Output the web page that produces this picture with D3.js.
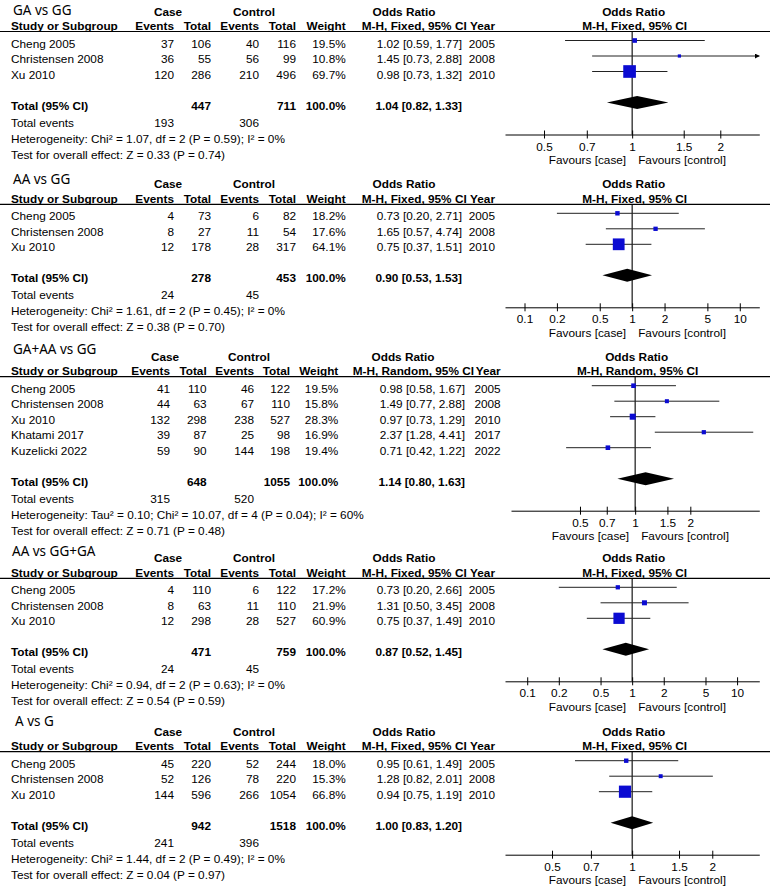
<!DOCTYPE html>
<html>
<head>
<meta charset="utf-8">
<script src="https://cdn.jsdelivr.net/npm/d3@7"></script>
<style>
  body { margin: 0; background: #fff; }
  text { font-family: "Liberation Sans", Arial, sans-serif; font-size: 11.8px; fill: #000; }
  .b { font-weight: bold; }
  .title { font-family: "Noto Sans", "Open Sans", sans-serif; font-size: 13.5px; }
</style>
</head>
<body>
<svg id="chart" width="770" height="893"></svg>
<script>
// ---- data ----
const titles = ["GA vs GG", "AA vs GG", "GA+AA vs GG", "AA vs GG+GA", "A vs G"];
const methods = ["M-H, Fixed, 95% CI", "M-H, Fixed, 95% CI", "M-H, Random, 95% CI", "M-H, Fixed, 95% CI", "M-H, Fixed, 95% CI"];
const studyNames = [
  ["Cheng 2005", "Christensen 2008", "Xu 2010"],
  ["Cheng 2005", "Christensen 2008", "Xu 2010"],
  ["Cheng 2005", "Christensen 2008", "Xu 2010", "Khatami 2017", "Kuzelicki 2022"],
  ["Cheng 2005", "Christensen 2008", "Xu 2010"],
  ["Cheng 2005", "Christensen 2008", "Xu 2010"]
];
const years = [
  [2005, 2008, 2010], [2005, 2008, 2010], [2005, 2008, 2010, 2017, 2022], [2005, 2008, 2010], [2005, 2008, 2010]
];
const caseEvents = [[37, 36, 120], [4, 8, 12], [41, 44, 132, 39, 59], [4, 8, 12], [45, 52, 144]];
const caseTotals = [[106, 55, 286], [73, 27, 178], [110, 63, 298, 87, 90], [110, 63, 298], [220, 126, 596]];
const ctrlEvents = [[40, 56, 210], [6, 11, 28], [46, 67, 238, 25, 144], [6, 11, 28], [52, 78, 266]];
const ctrlTotals = [[116, 99, 496], [82, 54, 317], [122, 110, 527, 98, 198], [122, 110, 527], [244, 220, 1054]];
const weights = [[19.5, 10.8, 69.7], [18.2, 17.6, 64.1], [19.5, 15.8, 28.3, 16.9, 19.4], [17.2, 21.9, 60.9], [18.0, 15.3, 66.8]];
const orEst = [[1.02, 1.45, 0.98], [0.73, 1.65, 0.75], [0.98, 1.49, 0.97, 2.37, 0.71], [0.73, 1.31, 0.75], [0.95, 1.28, 0.94]];
const orLow = [[0.59, 0.73, 0.73], [0.20, 0.57, 0.37], [0.58, 0.77, 0.73, 1.28, 0.42], [0.20, 0.50, 0.37], [0.61, 0.82, 0.75]];
const orHigh = [[1.77, 2.88, 1.32], [2.71, 4.74, 1.51], [1.67, 2.88, 1.29, 4.41, 1.22], [2.66, 3.45, 1.49], [1.49, 2.01, 1.19]];
const totCase = [447, 278, 648, 471, 942];
const totCtrl = [711, 453, 1055, 759, 1518];
const poolOR = [1.04, 0.90, 1.14, 0.87, 1.00];
const poolLow = [0.82, 0.53, 0.80, 0.52, 0.83];
const poolHigh = [1.33, 1.53, 1.63, 1.45, 1.20];
const evCase = [193, 24, 315, 24, 241];
const evCtrl = [306, 45, 520, 45, 396];
const hetText = [
  "Heterogeneity: Chi² = 1.07, df = 2 (P = 0.59); I² = 0%",
  "Heterogeneity: Chi² = 1.61, df = 2 (P = 0.45); I² = 0%",
  "Heterogeneity: Tau² = 0.10; Chi² = 10.07, df = 4 (P = 0.04); I² = 60%",
  "Heterogeneity: Chi² = 0.94, df = 2 (P = 0.63); I² = 0%",
  "Heterogeneity: Chi² = 1.44, df = 2 (P = 0.49); I² = 0%"
];
const testText = [
  "Test for overall effect: Z = 0.33 (P = 0.74)",
  "Test for overall effect: Z = 0.38 (P = 0.70)",
  "Test for overall effect: Z = 0.71 (P = 0.48)",
  "Test for overall effect: Z = 0.54 (P = 0.59)",
  "Test for overall effect: Z = 0.04 (P = 0.97)"
];
const tickVals = [
  [0.5, 0.7, 1, 1.5, 2], [0.1, 0.2, 0.5, 1, 2, 5, 10], [0.5, 0.7, 1, 1.5, 2],
  [0.1, 0.2, 0.5, 1, 2, 5, 10], [0.5, 0.7, 1, 1.5, 2]
];

// ---- layout ----
const lineY = [31.5, 204.3, 376.7, 578.3, 751.7];
const titleY = [14.7, 183.7, 353.7, 556.4, 726.4];
const titleX = [13, 13, 13, 12, 15];
const plotX = [[505, 759.3], [505, 759.3], [511, 759.3], [505, 759.3], [505, 759.3]];
const axisHalf = [1.0, 2.72, 1.56, 2.79, 1.10];  // half width of the axis, log units
const colsA = { caseEv: 174, caseTot: 211, ctrlEv: 259, ctrlTot: 296, weight: 345.7, or: 462, year: 495, caseHdr: 168, ctrlHdr: 254, orHdr: 404, mh: 466.7 };
const colsB = { caseEv: 170, caseTot: 206.7, ctrlEv: 254, ctrlTot: 290, weight: 338.3, or: 465, year: 500.7, caseHdr: 165, ctrlHdr: 249, orHdr: 403, mh: 474 };
const panelCols = [colsA, colsA, colsB, colsA, colsA];

const blue = "#0b0bd2";
const f2 = d3.format(".2f");
const boxSize = d3.scaleLinear().domain([0, 100]).range([1.5, 17.5]);

const svg = d3.select("#chart");
svg.append("defs").append("marker")
  .attr("id", "arrow")
  .attr("viewBox", "0 0 10 10")
  .attr("refX", 9).attr("refY", 5)
  .attr("markerWidth", 5).attr("markerHeight", 5)
  .attr("markerUnits", "userSpaceOnUse")
  .attr("orient", "auto")
  .append("path").attr("d", "M0,0L10,5L0,10Z").attr("fill", "#000");

function txt(g, x, y, s, anchor, cls) {
  return g.append("text").attr("x", x).attr("y", y)
    .attr("text-anchor", anchor || "start")
    .attr("class", cls || null)
    .text(s);
}

titles.forEach(function(title, p) {
  const g = svg.append("g");
  const L = lineY[p];
  const c = panelCols[p];
  const n = studyNames[p].length;
  const rowY = i => L + 9 + 15.5 * i;
  const totalY = rowY(n - 1) + 31;
  const axisY = totalY + 32;

  const x = d3.scaleLog()
    .domain([Math.exp(-axisHalf[p]), Math.exp(axisHalf[p])])
    .range(plotX[p]);
  const [d0, d1] = x.domain();
  const mid = (plotX[p][0] + plotX[p][1]) / 2 + 1.5;

  // titles and headers
  g.append("text").attr("class", "title").attr("x", titleX[p]).attr("y", titleY[p]).text(title);
  txt(g, c.caseHdr, L - 16, "Case", "middle", "b");
  txt(g, c.ctrlHdr, L - 16, "Control", "middle", "b");
  txt(g, c.orHdr, L - 16, "Odds Ratio", "middle", "b");
  txt(g, mid, L - 16, "Odds Ratio", "middle", "b");

  const hy = L - 1.5;
  txt(g, 11, hy, "Study or Subgroup", "start", "b");
  txt(g, c.caseEv, hy, "Events", "end", "b");
  txt(g, c.caseTot, hy, "Total", "end", "b");
  txt(g, c.ctrlEv, hy, "Events", "end", "b");
  txt(g, c.ctrlTot, hy, "Total", "end", "b");
  txt(g, c.weight, hy, "Weight", "end", "b");
  txt(g, c.mh, hy, methods[p], "end", "b");
  txt(g, c.year, hy, "Year", "end", "b");
  txt(g, mid + 1, hy, methods[p], "middle", "b");

  g.append("line")
    .attr("x1", 0).attr("x2", 770).attr("y1", L).attr("y2", L)
    .attr("stroke", "#000").attr("stroke-width", 1.2);

  // study rows
  studyNames[p].forEach(function(name, i) {
    const ty = rowY(i) + 7;
    txt(g, 11, ty, name);
    txt(g, c.caseEv, ty, caseEvents[p][i], "end");
    txt(g, c.caseTot, ty, caseTotals[p][i], "end");
    txt(g, c.ctrlEv, ty, ctrlEvents[p][i], "end");
    txt(g, c.ctrlTot, ty, ctrlTotals[p][i], "end");
    txt(g, c.weight, ty, weights[p][i].toFixed(1) + "%", "end");
    txt(g, c.or, ty, f2(orEst[p][i]) + " [" + f2(orLow[p][i]) + ", " + f2(orHigh[p][i]) + "]", "end");
    txt(g, c.year, ty, years[p][i], "end");
  });

  // totals
  const tty = totalY + 7;
  txt(g, 11, tty, "Total (95% CI)", "start", "b");
  txt(g, c.caseTot, tty, totCase[p], "end", "b");
  txt(g, c.ctrlTot, tty, totCtrl[p], "end", "b");
  txt(g, c.weight, tty, "100.0%", "end", "b");
  txt(g, c.or, tty, f2(poolOR[p]) + " [" + f2(poolLow[p]) + ", " + f2(poolHigh[p]) + "]", "end", "b");
  txt(g, 11, tty + 17, "Total events");
  txt(g, c.caseEv, tty + 17, evCase[p], "end");
  txt(g, c.ctrlEv, tty + 17, evCtrl[p], "end");
  txt(g, 11, tty + 33, hetText[p]);
  txt(g, 11, tty + 49, testText[p]);

  // forest plot
  g.append("line")
    .attr("x1", x(1)).attr("x2", x(1)).attr("y1", L).attr("y2", axisY)
    .attr("stroke", "#000").attr("stroke-width", 1.1);

  const rows = studyNames[p].map((s, i) => ({ i: i, or: orEst[p][i], lo: orLow[p][i], hi: orHigh[p][i], w: weights[p][i] }));

  g.selectAll("line.ci").data(rows).enter().append("line")
    .attr("class", "ci")
    .attr("x1", d => x(Math.max(d.lo, d0)))
    .attr("x2", d => x(Math.min(d.hi, d1)))
    .attr("y1", d => rowY(d.i)).attr("y2", d => rowY(d.i))
    .attr("stroke", "#222").attr("stroke-width", 1)
    .attr("marker-end", d => d.hi > d1 ? "url(#arrow)" : null);

  g.selectAll("rect.box").data(rows).enter().append("rect")
    .attr("class", "box")
    .attr("x", d => x(d.or) - boxSize(d.w) / 2)
    .attr("y", d => rowY(d.i) - boxSize(d.w) / 2)
    .attr("width", d => boxSize(d.w))
    .attr("height", d => boxSize(d.w))
    .attr("fill", blue);

  g.append("path")
    .attr("d", "M" + x(poolLow[p]) + "," + totalY +
      "L" + x(poolOR[p]) + "," + (totalY - 6.5) +
      "L" + x(poolHigh[p]) + "," + totalY +
      "L" + x(poolOR[p]) + "," + (totalY + 6.5) + "Z")
    .attr("fill", "#000");

  const ax = g.append("g")
    .attr("transform", "translate(0," + axisY + ")")
    .call(d3.axisBottom(x).tickValues(tickVals[p]).tickFormat(d3.format("")).tickSize(4).tickSizeOuter(0));
  ax.select(".domain").attr("stroke", "#000");
  ax.selectAll(".tick line").attr("y1", -4).attr("y2", 4).attr("stroke", "#000");
  ax.selectAll(".tick text")
    .attr("y", 16).attr("dy", null)
    .style("font-family", "'Liberation Sans', Arial, sans-serif")
    .style("font-size", "11.8px")
    .attr("fill", "#000");

  txt(g, x(1) - 6, axisY + 29.5, "Favours [case]", "end");
  txt(g, x(1) + 6, axisY + 29.5, "Favours [control]", "start");
});
</script>
</body>
</html>
